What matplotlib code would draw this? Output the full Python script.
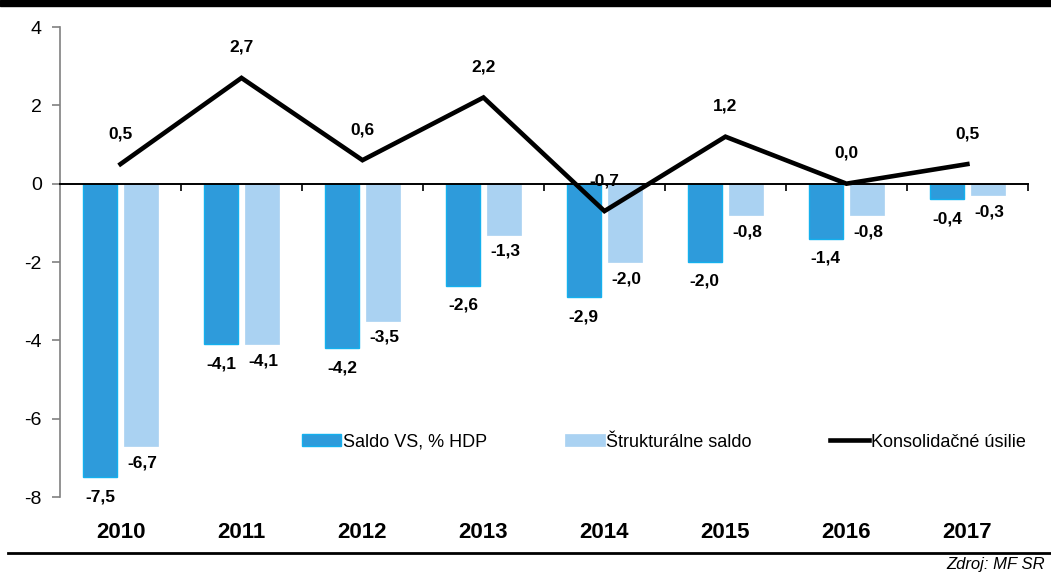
import numpy as np
import matplotlib
matplotlib.use("Agg")
import matplotlib.pyplot as plt
from matplotlib.patches import Rectangle
from matplotlib.transforms import blended_transform_factory

plt.rcParams['font.family'] = ['Liberation Sans', 'DejaVu Sans']

# data
years = ['2010', '2011', '2012', '2013', '2014', '2015', '2016', '2017']
saldo_vs = [-7.5, -4.1, -4.2, -2.6, -2.9, -2.0, -1.4, -0.4]
strukturalne = [-6.7, -4.1, -3.5, -1.3, -2.0, -0.8, -0.8, -0.3]
konsolidacne = [0.5, 2.7, 0.6, 2.2, -0.7, 1.2, 0.0, 0.5]
y_ticks = [-8, -6, -4, -2, 0, 2, 4]

dark = '#2E9BDB'
dark_edge = '#14B0EE'
light = '#AAD2F2'


def fmt(v):
    return f"{v:.1f}".replace('.', ',')


fig = plt.figure(figsize=(10.51, 5.77), dpi=100)
ax = fig.add_axes([0.0571, 0.1386, 0.9209, 0.8146])

x = np.arange(len(years))
w = 0.28
off = 0.17

b1 = ax.bar(x - off, saldo_vs, w, color=dark, edgecolor=dark_edge, linewidth=1,
            label='Saldo VS, % HDP', zorder=2)
b2 = ax.bar(x + off, strukturalne, w, color=light, edgecolor=light, linewidth=0.5,
            label='Štrukturálne saldo', zorder=2)
ln, = ax.plot(x, konsolidacne, color='black', lw=3.3, label='Konsolidačné úsilie',
              zorder=4, solid_joinstyle='miter')

# value labels
for xi, v in zip(x, saldo_vs):
    ax.annotate(fmt(v), (xi - off, v), xytext=(0, -14), textcoords='offset points',
                ha='center', va='center', fontsize=12.5, fontweight='bold', zorder=5)
for xi, v in zip(x, strukturalne):
    ax.annotate(fmt(v), (xi + off, v), xytext=(1, -12), textcoords='offset points',
                ha='center', va='center', fontsize=12.5, fontweight='bold', zorder=5)
for xi, v in zip(x, konsolidacne):
    ax.annotate(fmt(v), (xi, v), xytext=(0, 22), textcoords='offset points',
                ha='center', va='center', fontsize=12.5, fontweight='bold', zorder=5)

ax.set_xlim(-0.5, len(years) - 0.5)
ax.set_ylim(-8, 4)
ax.set_yticks(y_ticks)
ax.set_yticklabels([str(t) for t in y_ticks], fontsize=14)

# spines
for s in ['top', 'right']:
    ax.spines[s].set_visible(False)
ax.spines['left'].set_color('#808080')
ax.spines['left'].set_linewidth(1.2)
ax.spines['bottom'].set_position(('data', 0))
ax.spines['bottom'].set_color('black')
ax.spines['bottom'].set_linewidth(1.4)
ax.spines['bottom'].set_zorder(3)
ax.tick_params(axis='y', direction='out', length=6, color='#808080', width=1.2, pad=7)
ax.set_xticks(np.arange(0.5, len(years), 1.0))
ax.set_xticklabels([])
ax.tick_params(axis='x', direction='out', length=5, color='black', width=1.2)

# year labels at the bottom
tr = blended_transform_factory(ax.transData, ax.transAxes)
for xi, yr in zip(x, years):
    ax.text(xi, -0.075, yr, transform=tr, ha='center', va='center',
            fontsize=16, fontweight='bold')

leg = ax.legend([b1, b2, ln], ['Saldo VS, % HDP', 'Štrukturálne saldo', 'Konsolidačné úsilie'],
                loc='center right', bbox_to_anchor=(0.998, 0.117), ncol=3, frameon=False,
                fontsize=13, handlelength=2.2, handleheight=0.65, handletextpad=0.1,
                columnspacing=4.3, borderaxespad=0, borderpad=0)

# decoration: black strip on top, rule and source at bottom
fig.patches.append(Rectangle((0, 1 - 6 / 577), 1, 6 / 577, transform=fig.transFigure,
                             color='black', zorder=10))
fig.add_artist(plt.Line2D([8 / 1051, 1], [1 - 553 / 577] * 2, transform=fig.transFigure,
                          color='black', lw=2))
fig.text(1045 / 1051, 1 - 565 / 577, 'Zdroj: MF SR', ha='right', va='center',
         fontsize=12, fontstyle='italic')

fig.savefig('out.png', dpi=100)
